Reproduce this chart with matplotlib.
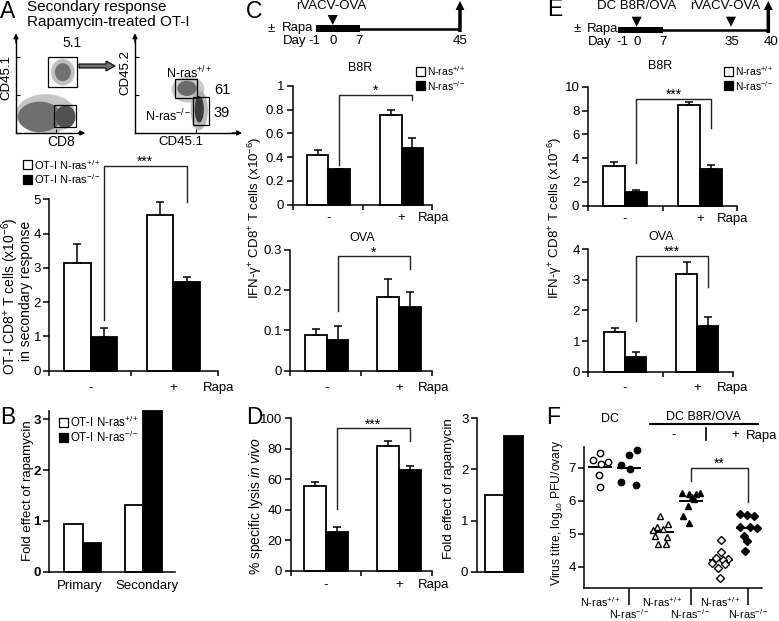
import matplotlib
matplotlib.use('Agg')
import matplotlib.pyplot as plt
import numpy as np
from matplotlib.patches import Rectangle, Ellipse, FancyArrow, Polygon
from matplotlib.ticker import LogLocator, NullFormatter

plt.rcParams['font.family'] = ['Liberation Sans', 'DejaVu Sans']
plt.rcParams['mathtext.fontset'] = 'custom'
plt.rcParams['mathtext.rm'] = 'Liberation Sans'
plt.rcParams['mathtext.it'] = 'Liberation Sans:italic'
plt.rcParams['mathtext.bf'] = 'Liberation Sans:bold'
plt.rcParams['mathtext.sf'] = 'Liberation Sans'
plt.rcParams['mathtext.default'] = 'regular'

# ---------------- data ----------------
rapa_labels = ['-', '+']
# A: OT-I CD8+ T cells (x10^-6) in secondary response
A_wt = [3.15, 4.55]
A_wt_err = [0.55, 0.38]
A_ko = [0.97, 2.58]
A_ko_err = [0.28, 0.15]
# B: fold effect of rapamycin
B_categories = ['Primary', 'Secondary']
B_wt = [0.93, 1.31]
B_ko = [0.56, 3.17]
# C: IFN-g+ CD8+ T cells
C_b8r_wt = [0.42, 0.754]
C_b8r_wt_err = [0.04, 0.046]
C_b8r_ko = [0.296, 0.473]
C_b8r_ko_err = [0.005, 0.084]
C_ova_wt = [0.089, 0.184]
C_ova_wt_err = [0.014, 0.043]
C_ova_ko = [0.076, 0.159]
C_ova_ko_err = [0.036, 0.037]
# D: % specific lysis in vivo
D_wt = [55.6, 82.0]
D_wt_err = [2.8, 3.1]
D_ko = [25.2, 65.9]
D_ko_err = [3.7, 2.8]
D_fold = [1.50, 2.65]
# E
E_b8r_wt = [3.36, 8.46]
E_b8r_wt_err = [0.29, 0.28]
E_b8r_ko = [1.18, 3.06]
E_b8r_ko_err = [0.14, 0.36]
E_ova_wt = [1.31, 3.19]
E_ova_wt_err = [0.11, 0.41]
E_ova_ko = [0.49, 1.50]
E_ova_ko_err = [0.16, 0.28]
# F: virus titre, log10 PFU/ovary
F_dc_wt = [7.45, 7.23, 7.18, 7.13, 6.78, 6.42]
F_dc_ko = [7.54, 7.40, 7.08, 6.96, 6.56, 6.48]
F_vac_wt = [5.55, 5.30, 5.20, 5.15, 5.12, 4.92, 4.90, 4.70, 4.68]
F_vac_ko = [6.25, 6.22, 6.22, 6.25, 6.12, 6.05, 5.85, 5.55, 5.32]
F_rapa_wt = [4.80, 4.45, 4.28, 4.25, 4.22, 4.12, 4.10, 3.98, 3.65]
F_rapa_ko = [5.60, 5.58, 5.55, 5.22, 5.20, 5.18, 4.92, 4.78, 4.48]
F_labels = ['N-ras$^{+/+}$', 'N-ras$^{-/-}$'] * 3

# ---------------- layout helpers ----------------
W, H = 779, 621
fig = plt.figure(figsize=(W / 100, H / 100), dpi=100)
TICK = 9.5      # tick labels
SFS = 9.5       # small labels (Rapa, timeline)
YFS = 9.5       # y-axis titles


def px_axes(left, top, right, bottom, **kw):
    return fig.add_axes([left / W, 1 - bottom / H, (right - left) / W, (bottom - top) / H], **kw)


def style_axes(ax):
    for s in ['top', 'right']:
        ax.spines[s].set_visible(False)
    for s in ['left', 'bottom']:
        ax.spines[s].set_linewidth(1.1)
    ax.tick_params(axis='y', direction='out', length=4, width=1.1, labelsize=TICK, pad=2)
    ax.patch.set_alpha(0)


def bar_panel(box, ylim_top, yticks, ylabels_txt, centers, bw, wt, ko, wt_err=None, ko_err=None,
              mid=None, lab_off=None, rapa_dx=None, bracket=None, stars=None, bold=False):
    left, top, right, bottom = box
    ax = px_axes(left, top, right, bottom)
    style_axes(ax)
    ax.set_xlim(0, right - left)
    ax.set_ylim(0, ylim_top)
    xs = np.array(centers) - left
    ax.bar(xs - bw / 2, wt, bw, color='white', edgecolor='black', lw=1.3, zorder=2, clip_on=False)
    ax.bar(xs + bw / 2, ko, bw, color='black', edgecolor='black', lw=1.3, zorder=2, clip_on=False)
    if wt_err is not None:
        ax.errorbar(xs - bw / 2, wt, yerr=[np.zeros(len(wt)), wt_err], fmt='none', ecolor='black',
                    elinewidth=1.1, capsize=2.6, capthick=1.1, zorder=3, clip_on=False)
    if ko_err is not None:
        ax.errorbar(xs + bw / 2, ko, yerr=[np.zeros(len(ko)), ko_err], fmt='none', ecolor='black',
                    elinewidth=1.1, capsize=2.6, capthick=1.1, zorder=3, clip_on=False)
    ax.set_yticks(yticks)
    ax.set_yticklabels(ylabels_txt, fontweight='bold' if bold else 'normal')
    if mid is not None:
        ax.set_xticks([0, mid - left, right - left])
        ax.set_xticklabels([])
        ax.tick_params(axis='x', direction='out', length=3.5, width=1.1)
    else:
        ax.set_xticks([])
    if lab_off is not None:
        for x, lab in zip(xs, rapa_labels):
            ax.annotate(lab, xy=(x, 0), xycoords=('data', 'axes fraction'),
                        xytext=(0, -lab_off * 0.72), textcoords='offset points',
                        ha='center', va='baseline', fontsize=SFS)
        ax.annotate('Rapa', xy=(1, 0), xycoords='axes fraction',
                    xytext=(rapa_dx * 0.72, -lab_off * 0.72), textcoords='offset points',
                    ha='left', va='baseline', fontsize=SFS)
    if bracket is not None:
        yl, yt, yr = bracket
        xl, xr = xs[0] + bw / 2, xs[1] + bw / 2
        ax.plot([xl, xl, xr, xr], [yl, yt, yt, yr], color='#222222', lw=1.0, clip_on=False, zorder=4)
        ax.text((xl + xr) / 2, yt, stars, ha='center', va='baseline', fontsize=10, clip_on=False)
    return ax


# ---------------- overlay ----------------
ov = fig.add_axes([0, 0, 1, 1], zorder=10)
ov.set_xlim(0, W)
ov.set_ylim(H, 0)
ov.axis('off')

# panel letters
for letter, (x, y) in {'A': (8, 12), 'B': (8, 417), 'C': (254, 11), 'D': (254, 418),
                       'E': (555, 10), 'F': (553, 418)}.items():
    ov.text(x, y, letter, fontsize=16.5, ha='center', va='center')

# ---------------- Panel A: flow plots ----------------
ov.text(27, 7, 'Secondary response', fontsize=11, ha='left', va='center')
ov.text(27, 22, 'Rapamycin-treated OT-I', fontsize=11, ha='left', va='center')


def flow_axes(left, top, right, bottom):
    ax = px_axes(left, top, right, bottom)
    ax.set_xscale('log')
    ax.set_yscale('log')
    ax.set_xlim(1, 1e5)
    ax.set_ylim(1, 1e5)
    for s in ['top', 'right']:
        ax.spines[s].set_visible(False)
    for s in ['left', 'bottom']:
        ax.spines[s].set_linewidth(1.0)
    for axis in (ax.xaxis, ax.yaxis):
        axis.set_major_locator(LogLocator(base=10))
        axis.set_minor_locator(LogLocator(base=10, subs=np.arange(2, 10)))
        axis.set_major_formatter(NullFormatter())
        axis.set_minor_formatter(NullFormatter())
    ax.tick_params(which='major', direction='in', length=3, width=0.8)
    ax.tick_params(which='minor', direction='in', length=1.6, width=0.5)
    ap = dict(arrowstyle='-|>', color='black', lw=1.0, shrinkA=0, shrinkB=0, mutation_scale=7)
    ax.annotate('', xy=(0, 1.05), xytext=(0, 0.95), xycoords='axes fraction', arrowprops=ap,
                annotation_clip=False)
    ax.annotate('', xy=(1.05, 0), xytext=(0.95, 0), xycoords='axes fraction', arrowprops=ap,
                annotation_clip=False)
    return ax


def blob(ax, cx, cy, w, h, color, alpha=1.0, angle=0):
    ax.add_patch(Ellipse((cx, cy), w, h, angle=angle, transform=ax.transAxes, fc=color, ec='none',
                         alpha=alpha, zorder=1))


def gate(ax, x0, y0, x1, y1):
    ax.add_patch(Rectangle((x0, y0), x1 - x0, y1 - y0, transform=ax.transAxes, fill=False,
                           ec='black', lw=0.9, zorder=3))


fa1 = flow_axes(16, 38, 82, 133)
blob(fa1, 0.45, 0.20, 0.90, 0.42, '#b8b8b8', 0.8)
blob(fa1, 0.36, 0.17, 0.66, 0.32, '#6f6f6f')
blob(fa1, 0.75, 0.17, 0.30, 0.24, '#505050')
blob(fa1, 0.71, 0.64, 0.36, 0.28, '#b0b0b0', 0.8)
blob(fa1, 0.71, 0.64, 0.24, 0.19, '#707070')
gate(fa1, 0.485, 0.484, 0.924, 0.80)
gate(fa1, 0.576, 0.063, 0.909, 0.295)

fa2 = flow_axes(135, 38, 237, 133)
blob(fa2, 0.52, 0.46, 0.32, 0.28, '#bdbdbd', 0.8)
blob(fa2, 0.51, 0.47, 0.19, 0.16, '#6a6a6a')
blob(fa2, 0.63, 0.24, 0.17, 0.42, '#a8a8a8', 0.8)
blob(fa2, 0.63, 0.25, 0.09, 0.28, '#3c3c3c')
gate(fa2, 0.392, 0.368, 0.608, 0.568)
gate(fa2, 0.569, 0.084, 0.725, 0.379)

ov.add_patch(FancyArrow(79, 66, 36, 0, width=4, head_width=10, head_length=9,
                        length_includes_head=True, fc='#707070', ec='black', lw=0.8))
ov.text(72.5, 43, '5.1', fontsize=10, ha='center', va='center')
ov.text(6.5, 77, 'CD45.1', fontsize=9.5, ha='center', va='center', rotation=90)
ov.text(61, 142, 'CD8', fontsize=10, ha='center', va='center')
ov.text(125, 73, 'CD45.2', fontsize=9.5, ha='center', va='center', rotation=90)
ov.text(181, 142, 'CD45.1', fontsize=9.5, ha='center', va='center')
ov.text(166, 73, 'N-ras$^{+/+}$', fontsize=9, ha='left', va='center')
ov.text(145, 116, 'N-ras$^{-/-}$', fontsize=9, ha='left', va='center')
ov.text(222, 90, '61', fontsize=10.5, ha='center', va='center')
ov.text(222, 113, '39', fontsize=10.5, ha='center', va='center')

# ---------------- Panel A: bars ----------------
bar_panel((49.3, 199.5, 218, 370.7), 5, [0, 1, 2, 3, 4, 5], ['0', '1', '2', '3', '4', '5'],
          [90.7, 173.3], 26.5, A_wt, A_ko, A_wt_err, A_ko_err, mid=131, lab_off=20.3, rapa_dx=-15,
          bracket=(1.48, 5.98, 4.94), stars='***')
ov.text(10, 296, 'OT-I CD8$^{+}$ T cells (x10$^{-6}$)', fontsize=10, rotation=90, ha='center', va='center')
ov.text(26.5, 291, 'in secondary response', fontsize=10, rotation=90, ha='center', va='center')


def legend_box(x, y, color, label, fs):
    ov.add_patch(Rectangle((x, y), 9.5, 9, fc=color, ec='black', lw=0.9))
    ov.text(x + 11.5, y + 4.7, label, fontsize=fs, ha='left', va='center')


legend_box(23, 160, 'white', 'OT-I N-ras$^{+/+}$', 8)
legend_box(23, 174.5, 'black', 'OT-I N-ras$^{-/-}$', 8)

# ---------------- Panel B ----------------
axB = bar_panel((49.3, 410.7, 175, 571.5), 3.17, [0, 1, 2, 3], ['0', '1', '2', '3'],
                [82.7, 143.3], 18.5, B_wt, B_ko, bold=True)
for x, lab in zip(np.array([80, 147]) - 49.3, B_categories):
    axB.annotate(lab, xy=(x, 0), xycoords=('data', 'axes fraction'), xytext=(0, -17.5 * 0.72),
                 textcoords='offset points', ha='center', va='baseline', fontsize=9.5)
ov.text(28, 491, 'Fold effect of rapamycin', fontsize=YFS, rotation=90, ha='center', va='center')
legend_box(59, 418, 'white', 'OT-I N-ras$^{+/+}$', 8.3)
legend_box(59, 433, 'black', 'OT-I N-ras$^{-/-}$', 8.3)

# ---------------- Panel C ----------------
ov.text(331.5, 6, 'rVACV-OVA', fontsize=SFS, ha='center', va='center')
ov.add_patch(Rectangle((315.7, 25), 44.3, 7, fc='black', ec='none'))
ov.plot([360, 458], [28.5, 28.5], color='black', lw=1.8)
ov.add_patch(FancyArrow(460, 32, 0, -31, width=3.5, head_width=9, head_length=9,
                        length_includes_head=True, fc='black', ec='none'))
ov.add_patch(Polygon([[327.7, 15], [337.7, 15], [332.7, 25]], fc='black', ec='none'))
ov.text(268, 28.5, '±', fontsize=SFS, ha='left', va='center')
ov.text(282, 28.5, 'Rapa', fontsize=SFS, ha='left', va='center')
ov.text(283, 41, 'Day', fontsize=SFS, ha='left', va='center')
for x, t in [(314, '-1'), (333, '0'), (359, '7'), (460, '45')]:
    ov.text(x, 41, t, fontsize=SFS, ha='center', va='center')

ov.text(360, 68, 'B8R', fontsize=9, ha='center', va='center')
bar_panel((292.7, 86, 431.7, 204.5), 1.0, [0, 0.2, 0.4, 0.6, 0.8, 1.0],
          ['0', '0.2', '0.4', '0.6', '0.8', '1'], [328.3, 401.7], 21.5,
          C_b8r_wt, C_b8r_ko, C_b8r_wt_err, C_b8r_ko_err, mid=362.7, lab_off=16.5, rapa_dx=-13.7,
          bracket=(0.333, 0.922, 0.886), stars='*')
legend_box(415.7, 66.7, 'white', 'N-ras$^{+/+}$', 7.5)
legend_box(415.7, 81, 'black', 'N-ras$^{-/-}$', 7.5)

ov.text(361.7, 237.7, 'OVA', fontsize=9, ha='center', va='center')
bar_panel((290, 250, 431.7, 370.7), 0.3, [0, 0.1, 0.2, 0.3], ['0', '0.1', '0.2', '0.3'],
          [326.7, 399], 21.7, C_ova_wt, C_ova_ko, C_ova_wt_err, C_ova_ko_err, mid=360.7,
          lab_off=20.3, rapa_dx=-13.7, bracket=(0.149, 0.284, 0.252), stars='*')
ov.text(255, 218, 'IFN-γ$^{+}$ CD8$^{+}$ T cells (x10$^{-6}$)', fontsize=YFS, rotation=90,
        ha='center', va='center')

# ---------------- Panel D ----------------
bar_panel((290.7, 418.3, 431.7, 570.7), 100, [0, 20, 40, 60, 80, 100],
          ['0', '20', '40', '60', '80', '100'], [326, 399], 21.7, D_wt, D_ko, D_wt_err, D_ko_err,
          mid=361, lab_off=17.6, rapa_dx=-13.7, bracket=(40.3, 93.4, 85.3), stars='***')
ov.text(256, 506, '% specific lysis $\\mathit{in\\ vivo}$', fontsize=10, rotation=90,
        ha='center', va='center')

axD2 = px_axes(476.7, 418.3, 523, 571.7)
style_axes(axD2)
axD2.set_xlim(0, 523 - 476.7)
axD2.set_ylim(0, 3)
axD2.bar([504 - 476.7 - 9.5], [D_fold[0]], 19, color='white', edgecolor='black', lw=1.3, clip_on=False)
axD2.bar([504 - 476.7 + 9.5], [D_fold[1]], 19, color='black', edgecolor='black', lw=1.3, clip_on=False)
axD2.set_yticks([0, 1, 2, 3])
axD2.set_yticklabels(['0', '1', '2', '3'])
axD2.set_xticks([])
ov.text(449, 489, 'Fold effect of rapamycin', fontsize=YFS, rotation=90, ha='center', va='center')

# ---------------- Panel E ----------------
ov.text(636.7, 6, 'DC B8R/OVA', fontsize=SFS, ha='center', va='center')
ov.text(725, 6, 'rVACV-OVA', fontsize=SFS, ha='center', va='center')
ov.add_patch(Rectangle((618.3, 26.7), 45, 6, fc='black', ec='none'))
ov.plot([663, 766], [29.5, 29.5], color='black', lw=1.8)
ov.add_patch(FancyArrow(768.3, 33, 0, -32, width=3.5, head_width=9, head_length=9,
                        length_includes_head=True, fc='black', ec='none'))
for xt in (636.7, 731):
    ov.add_patch(Polygon([[xt - 5, 16.7], [xt + 5, 16.7], [xt, 26.7]], fc='black', ec='none'))
ov.text(574, 29.3, '±', fontsize=SFS, ha='left', va='center')
ov.text(587, 29.3, 'Rapa', fontsize=SFS, ha='left', va='center')
ov.text(588.3, 41.7, 'Day', fontsize=SFS, ha='left', va='center')
for x, t in [(622, '-1'), (636.7, '0'), (663.3, '7'), (731.7, '35'), (771, '40')]:
    ov.text(x, 41.7, t, fontsize=SFS, ha='center', va='center')

ov.text(660, 66, 'B8R', fontsize=9, ha='center', va='center')
bar_panel((587.7, 86.7, 736.7, 205.7), 10, [0, 2, 4, 6, 8, 10], ['0', '2', '4', '6', '8', '10'],
          [625, 700], 22, E_b8r_wt, E_b8r_ko, E_b8r_wt_err, E_b8r_ko_err, mid=662.7,
          lab_off=16.3, rapa_dx=-20, bracket=(3.57, 8.97, 6.5), stars='***')
legend_box(724, 66.7, 'white', 'N-ras$^{+/+}$', 7.5)
legend_box(724, 81, 'black', 'N-ras$^{-/-}$', 7.5)

ov.text(661, 236.7, 'OVA', fontsize=9, ha='center', va='center')
bar_panel((588.3, 249.3, 733, 371.7), 4, [0, 1, 2, 3, 4], ['0', '1', '2', '3', '4'],
          [625, 697], 21, E_ova_wt, E_ova_ko, E_ova_wt_err, E_ova_ko_err, mid=662.7,
          lab_off=19.6, rapa_dx=-16.3, bracket=(1.66, 3.78, 2.78), stars='***')
ov.text(555, 218, 'IFN-γ$^{+}$ CD8$^{+}$ T cells (x10$^{-6}$)', fontsize=YFS, rotation=90,
        ha='center', va='center')

# ---------------- Panel F ----------------
F_left, F_right = 584.3, 761.7
axF = px_axes(F_left, 446.7, F_right, 588.3)
style_axes(axF)
axF.set_xlim(0, F_right - F_left)
axF.set_ylim(3.35, 7.64)
axF.set_yticks([4, 5, 6, 7])
axF.set_yticklabels(['4', '5', '6', '7'])
F_centers = np.array([600, 629, 662, 690.7, 720.7, 748.3]) - F_left
F_offsets = [
    [0, -7, 8, 1, -1, 0],
    [8, 0, -8, 1, -8, 7],
    [-2, 6, -5, 1, -9, -7, 5, -4, 4],
    [-9, -2, 5, 9, 1, 3, -3, -8, -2],
    [0, 0, -5, 7, 2, -9, 4, -3, -1],
    [-8, -1, 6, -8, 2, 9, -4, -1, -3],
]
F_series = [F_dc_wt, F_dc_ko, F_vac_wt, F_vac_ko, F_rapa_wt, F_rapa_ko]
F_marks = [('o', 'white'), ('o', 'black'), ('^', 'white'), ('^', 'black'), ('D', 'white'), ('D', 'black')]
for c, offs, vals, (m, fc) in zip(F_centers, F_offsets, F_series, F_marks):
    axF.plot(c + np.array(offs), vals, linestyle='none', marker=m, ms=4.6 if m != 'D' else 4.0,
             mfc=fc, mec='black', mew=1.0, clip_on=False, zorder=3)
    mval = np.mean(vals)
    axF.plot([c - 11, c + 11], [mval, mval], color='black', lw=1.4, zorder=2)
axF.set_xticks(F_centers[1::2])
axF.set_xticklabels([])
axF.tick_params(axis='x', direction='out', length=12.5, width=1.1)
for i, (c, lab) in enumerate(zip(F_centers, F_labels)):
    off = 14.4 if i % 2 == 0 else 26.7
    axF.annotate(lab, xy=(c, 0), xycoords=('data', 'axes fraction'), xytext=(0, -(off + 4) * 0.72),
                 textcoords='offset points', ha='center', va='baseline', fontsize=7.8)
# significance bracket
xl, xr = F_centers[3], F_centers[5]
axF.plot([xl, xl, xr, xr], [6.6, 7.0, 7.0, 5.97], color='#222222', lw=1.0, zorder=4)
axF.text((xl + xr) / 2, 7.0, '**', ha='center', va='baseline', fontsize=10)
ov.text(557, 513, 'Virus titre, log$_{10}$ PFU/ovary', fontsize=8.7, rotation=90, ha='center', va='center')
ov.text(610, 419, 'DC', fontsize=9, ha='center', va='center')
ov.text(703.3, 416.5, 'DC B8R/OVA', fontsize=9, ha='center', va='center')
ov.plot([650, 758.3], [424.3, 424.3], color='black', lw=1.5)
ov.plot([706, 706], [428, 440], color='black', lw=1.2)
ov.text(674, 435, '-', fontsize=9.5, ha='center', va='center')
ov.text(735, 435, '+', fontsize=9.5, ha='center', va='center')
ov.text(746, 436, 'Rapa', fontsize=9.5, ha='left', va='center')

fig.savefig('out.png', dpi=100)
